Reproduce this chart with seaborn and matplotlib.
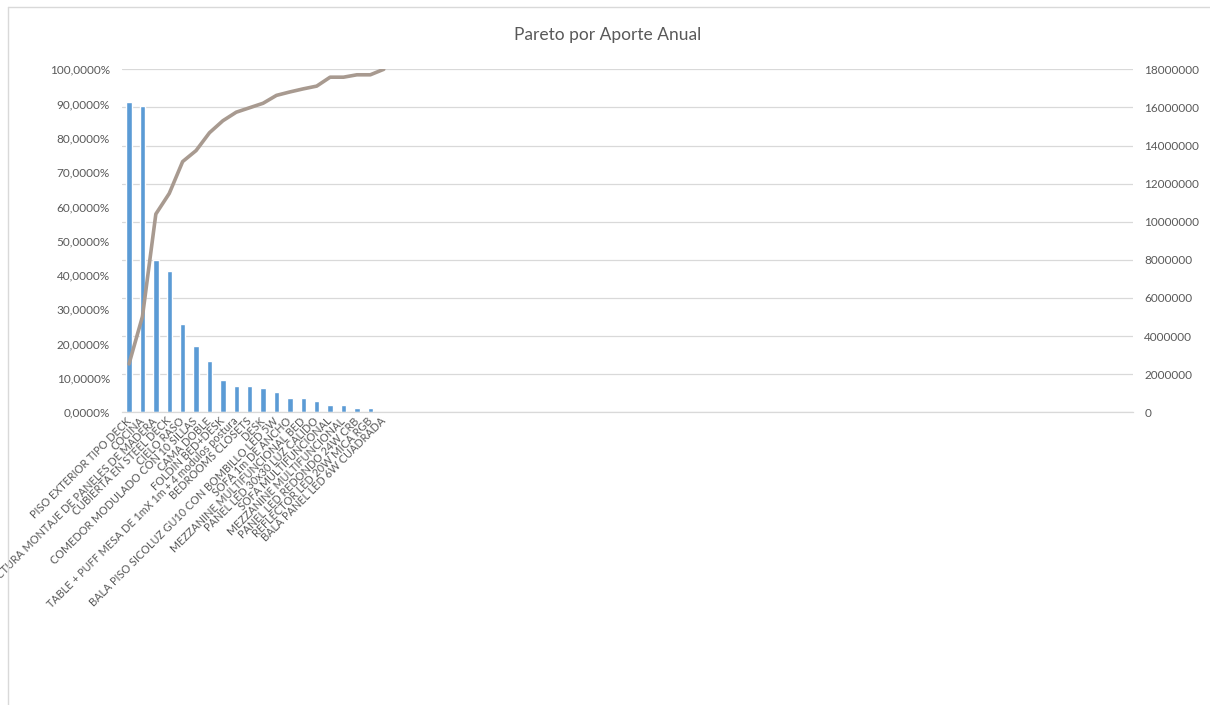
import numpy as np
import pandas as pd
import matplotlib
matplotlib.use("Agg")
import matplotlib.pyplot as plt
from matplotlib.lines import Line2D
from matplotlib.ticker import FuncFormatter, MultipleLocator
import seaborn as sns

# Items ordered by annual contribution
categorias = [
    "PISO EXTERIOR TIPO DECK",
    "COCINA",
    "ESTRUCTURA MONTAJE DE PANELES DE MADERA",
    "CUBIERTA EN STEEL DECK",
    "CIELO RASO",
    "COMEDOR MODULADO CON 10 SILLAS",
    "CAMA DOBLE",
    "FOLDIN BED+DESK",
    "TABLE + PUFF MESA DE 1mX 1m + 4 modulos postura",
    "BEDROOMS CLOSETS",
    "DESK",
    "BALA PISO SICOLUZ GU10 CON BOMBILLO LED 5W",
    "SOFA 1m DE ANCHO",
    "MEZZANINE MULTIFUNCIONAL BED",
    "PANEL LED 30x30 LUZ CALIDO",
    "SOFA MULTIFUNCIONAL",
    "MEZZANINE MULTIFUNCIONAL",
    "PANEL LED REDONDO 24W CRB",
    "REFLECTOR LED 20W MICA RGB",
    "BALA PANEL LED 6W CUADRADA",
]

# Annual contribution per item
aporte_anual = [16300000, 16070000, 7980000, 7440000, 4650000, 3470000,
                2670000, 1720000, 1400000, 1400000, 1250000, 1070000,
                770000, 770000, 610000, 370000, 370000, 210000, 210000, 0]

# Cumulative share (fraction of total)
acumulado = [0.141, 0.279, 0.578, 0.638, 0.731, 0.763, 0.815, 0.850,
             0.875, 0.888, 0.901, 0.924, 0.934, 0.943, 0.951, 0.977,
             0.977, 0.984, 0.984, 1.000]

df = pd.DataFrame({"item": categorias, "aporte": aporte_anual,
                   "pos": np.arange(len(categorias)), "acum": acumulado})

sns.set_theme(style="white")
plt.rcParams["font.family"] = ["Lato", "DejaVu Sans"]

TXT = "#595959"
GRID = "#D9D9D9"

fig = plt.figure(figsize=(12.10, 7.05), dpi=100)
ax_bar = fig.add_axes([0.1011, 0.4152, 0.8353, 0.4865])

sns.barplot(data=df, x="item", y="aporte", color="#5B9BD5", width=0.4,
            saturation=1, ax=ax_bar, zorder=2)
ax_bar.set_ylim(0, 18000000)
ax_bar.set_xlim(-0.5, 74.9)
ax_bar.grid(axis="y", color=GRID, linewidth=0.9, zorder=0)
ax_bar.set_axisbelow(True)
ax_bar.set_xlabel("")
ax_bar.set_ylabel("")
ax_bar.tick_params(axis="x", length=0, pad=5, labelsize=7.8, labelcolor=TXT)
for lbl in ax_bar.get_xticklabels():
    lbl.set_rotation(45)
    lbl.set_rotation_mode("anchor")
    lbl.set_ha("right")
    lbl.set_va("center")
for s in ["top", "left", "right"]:
    ax_bar.spines[s].set_visible(False)
ax_bar.spines["bottom"].set_color(GRID)
ax_bar.spines["bottom"].set_linewidth(0.9)

# Cumulative percentage on the left axis
ax_line = ax_bar.twinx()
sns.lineplot(data=df, x="pos", y="acum", color="#A89A90", linewidth=2.6,
             ax=ax_line, zorder=3)
ax_line.set_ylim(0, 1.0)
ax_line.yaxis.tick_left()
ax_line.yaxis.set_label_position("left")
ax_line.yaxis.set_major_locator(MultipleLocator(0.1))
ax_line.yaxis.set_major_formatter(
    FuncFormatter(lambda v, p: f"{v * 100:.4f}".replace(".", ",") + "%"))
ax_line.tick_params(axis="y", length=0, pad=9, labelsize=8.5, labelcolor=TXT)
ax_line.set_xlabel("")
ax_line.set_ylabel("")
for s in ax_line.spines.values():
    s.set_visible(False)

# Amount axis on the right (set after twinx, which resets tick sides)
ax_bar.yaxis.tick_right()
ax_bar.yaxis.set_major_locator(MultipleLocator(2000000))
ax_bar.yaxis.set_major_formatter(FuncFormatter(lambda v, p: f"{int(round(v))}"))
ax_bar.tick_params(axis="y", length=0, pad=8, labelsize=8.5, labelcolor=TXT,
                   labelleft=False, labelright=True)

fig.text(0.5025, 0.950, "Pareto por Aporte Anual", ha="center", va="center",
         fontsize=12.5, color=TXT)

# Chart area border
fig.add_artist(Line2D([8 / 1210, 1.0], [1 - 7 / 705, 1 - 7 / 705],
                      color=GRID, linewidth=1.0))
fig.add_artist(Line2D([8 / 1210, 8 / 1210], [0.0, 1 - 7 / 705],
                      color=GRID, linewidth=1.0))

fig.savefig("out.png", dpi=100, facecolor="white")
